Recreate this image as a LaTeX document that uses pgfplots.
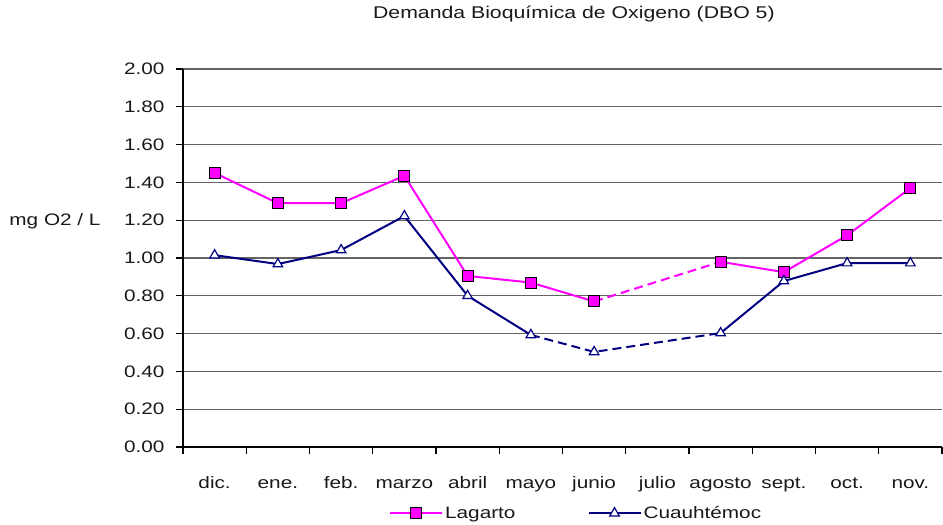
\documentclass[border=0pt]{standalone}
\usepackage{pgfplots}
\pgfplotsset{compat=1.18}
\usepackage{fontspec}
\setmainfont{Liberation Sans}[FakeStretch=1.25]
\definecolor{lagarto}{RGB}{255,0,255}
\definecolor{cuau}{RGB}{0,0,128}
\definecolor{gridc}{RGB}{100,100,100}
\definecolor{txt}{RGB}{25,25,25}
\begin{document}
\begin{tikzpicture}
\path[use as bounding box] (-183pt,-78pt) rectangle (760pt,447pt);
\begin{axis}[
  at={(0,0)}, anchor=south west,
  scale only axis, width=759pt, height=378pt,
  font=\fontsize{16.6}{20}\selectfont\color{txt},
  /pgf/number format/assume math mode=true,
  xmin=-0.5, xmax=11.5, ymin=0, ymax=2,
  axis lines*=left,
  axis line style={black, line width=1.1pt},
  xtick={0,...,11},
  xticklabels={dic.,ene.,feb.,marzo,abril,mayo,junio,julio,agosto,sept.,oct.,nov.},
  minor xtick={-0.5,0.5,...,11.5},
  major x tick style={draw=none},
  minor x tick style={draw=black, line width=1.1pt},
  minor tick length=7pt,
  major tick length=7pt,
  tick align=outside,
  ytick={0,0.2,...,2.01},
  y tick style={black, line width=1.1pt},
  yticklabel={\pgfmathprintnumber[fixed,fixed zerofill,precision=2]{\tick}},
  yticklabel style={xshift=-8pt},
  xticklabel style={yshift=-19pt, text height=12pt, text depth=3pt},
  ymajorgrids,
  major grid style={gridc, line width=1.3pt},
  title={\fontsize{17}{20}\selectfont Demanda Bioquímica de Oxigeno (DBO 5)},
  title style={at={(axis description cs:0.515,1)}, anchor=center, yshift=49pt},
  ylabel={mg O2 / L},
  ylabel style={rotate=-90, at={(axis description cs:0,0.598)}, anchor=center, xshift=-128pt},
  legend columns=2,
  legend style={at={(axis description cs:0.518,-0.175)}, anchor=center, draw=none, fill=none,
    /tikz/every even column/.append style={column sep=70pt}},
  legend image code/.code={\draw[mark repeat=2,mark phase=2] plot coordinates {(0pt,0pt)(26pt,0pt)(52pt,0pt)};},
]
\addplot[lagarto, line width=2pt, dash pattern=on 9pt off 5pt, forget plot]
  coordinates {(6,0.77)(8,0.98)};
\addplot[cuau, line width=2pt, dash pattern=on 9pt off 5pt, forget plot]
  coordinates {(5,0.593)(6,0.503)(8,0.603)};
\addplot[lagarto, line width=2pt, mark=square*, mark size=5.5pt,
  mark options={solid, fill=lagarto, draw=black, line width=1pt}]
  coordinates {(0,1.45)(1,1.29)(2,1.29)(3,1.435)(4,0.905)(5,0.87)(6,0.77)};
\addlegendentry{Lagarto}
\addplot[cuau, line width=2pt, mark=triangle*, mark size=5.5pt,
  mark options={solid, fill=white, draw=cuau, line width=1.2pt}]
  coordinates {(0,1.015)(1,0.968)(2,1.042)(3,1.222)(4,0.80)(5,0.593)};
\addlegendentry{Cuauhtémoc}
\addplot[lagarto, line width=2pt, mark=square*, mark size=5.5pt,
  mark options={solid, fill=lagarto, draw=black, line width=1pt}, forget plot]
  coordinates {(8,0.98)(9,0.925)(10,1.12)(11,1.37)};
\addplot[cuau, line width=2pt, only marks, mark=triangle*, mark size=5.5pt,
  mark options={solid, fill=white, draw=cuau, line width=1.2pt}, forget plot]
  coordinates {(6,0.503)};
\addplot[cuau, line width=2pt, mark=triangle*, mark size=5.5pt,
  mark options={solid, fill=white, draw=cuau, line width=1.2pt}, forget plot]
  coordinates {(8,0.603)(9,0.878)(10,0.973)(11,0.973)};
\end{axis}
\end{tikzpicture}
\end{document}
